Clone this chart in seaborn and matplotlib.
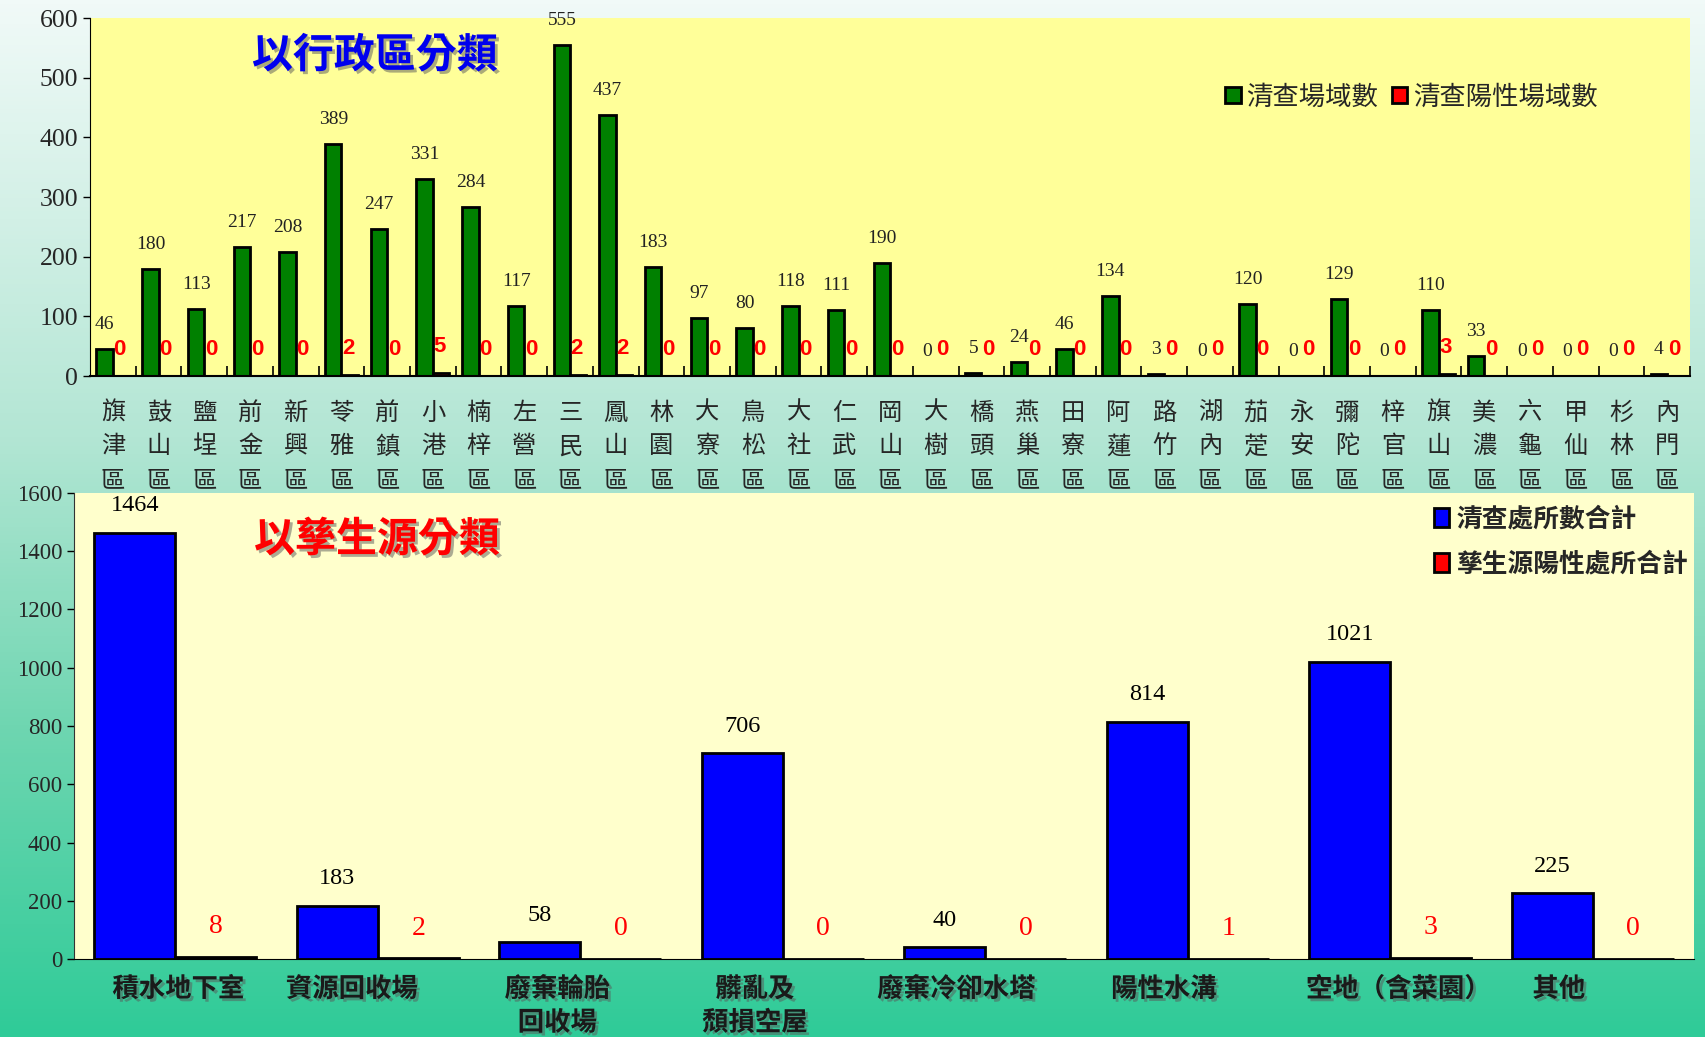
import matplotlib
matplotlib.use("Agg")
import matplotlib.pyplot as plt
import matplotlib.patheffects as pe
from matplotlib.colors import LinearSegmentedColormap
from matplotlib.transforms import ScaledTranslation
import numpy as np
import pandas as pd
import seaborn as sns

# 以行政區分類
districts = ["旗津", "鼓山", "鹽埕", "前金", "新興", "苓雅", "前鎮", "小港", "楠梓", "左營",
             "三民", "鳳山", "林園", "大寮", "鳥松", "大社", "仁武", "岡山", "大樹", "橋頭",
             "燕巢", "田寮", "阿蓮", "路竹", "湖內", "茄萣", "永安", "彌陀", "梓官", "旗山",
             "美濃", "六龜", "甲仙", "杉林", "內門"]
checked_sites = [46, 180, 113, 217, 208, 389, 247, 331, 284, 117,
                 555, 437, 183, 97, 80, 118, 111, 190, 0, 5,
                 24, 46, 134, 3, 0, 120, 0, 129, 0, 110,
                 33, 0, 0, 0, 4]
positive_sites = [0, 0, 0, 0, 0, 2, 0, 5, 0, 0,
                  2, 2, 0, 0, 0, 0, 0, 0, 0, 0,
                  0, 0, 0, 0, 0, 0, 0, 0, 0, 3,
                  0, 0, 0, 0, 0]

# 以孳生源分類
sources = ["積水地下室", "資源回收場", "廢棄輪胎\n回收場", "髒亂及\n頹損空屋",
           "廢棄冷卻水塔", "陽性水溝", "空地（含菜園）", "其他"]
source_checked = [1464, 183, 58, 706, 40, 814, 1021, 225]
source_positive = [8, 2, 0, 0, 0, 1, 3, 0]

sns.set_style("ticks")
CJK = ["Noto Sans CJK TC", "DejaVu Sans"]
SERIF = ["Liberation Serif", "DejaVu Serif"]
plt.rcParams["font.family"] = CJK

fig = plt.figure(figsize=(17.06, 10.37), dpi=100)

# background gradient
bg = fig.add_axes([0, 0, 1, 1], zorder=-5)
cmap = LinearSegmentedColormap.from_list(
    "bg", [(0, "#f1faf8"), (0.42, "#b3e6d4"), (0.7, "#6fd6b1"), (1, "#2fcb98")])
bg.imshow(np.linspace(0, 1, 256)[:, None], aspect="auto", cmap=cmap, extent=[0, 1, 0, 1])
bg.axis("off")

shadow = [pe.SimplePatchShadow(offset=(2, -2), shadow_rgbFace=(0.35, 0.35, 0.35), alpha=0.5), pe.Normal()]

# ---------------- top chart ----------------
ax1 = fig.add_axes([0.0528, 0.6374, 0.9378, 0.3452])
df1 = pd.DataFrame({
    "district": districts * 2,
    "count": checked_sites + positive_sites,
    "series": ["清查場域數"] * len(districts) + ["清查陽性場域數"] * len(districts),
})
sns.barplot(data=df1, x="district", y="count", hue="series", palette=["#008000", "#ff0000"],
            width=0.72, edgecolor="black", linewidth=2, saturation=1, ax=ax1)
ax1.set_facecolor("#ffff99")
ax1.set_xlim(-0.5, len(districts) - 0.5)
ax1.set_ylim(0, 600)
ax1.set_yticks(range(0, 601, 100))
ax1.set_xlabel("")
ax1.set_ylabel("")
ax1.set_xticks(range(len(districts)))
ax1.set_xticklabels(["\n".join(d + "區") for d in districts], fontsize=17.5, linespacing=1.38)
ax1.set_xticks(np.arange(len(districts)) + 0.5, minor=True)
ax1.tick_params(axis="x", which="major", length=0, pad=17)
ax1.tick_params(axis="x", which="minor", direction="in", length=7, width=1.2, color="black")
ax1.tick_params(axis="y", length=5, width=1, color="black")
for lab in ax1.get_yticklabels():
    lab.set_fontfamily(SERIF)
    lab.set_fontsize(18.5)
for s in ["top", "right"]:
    ax1.spines[s].set_visible(False)
ax1.spines["left"].set_color("black")
ax1.spines["bottom"].set_color("black")
ax1.spines["bottom"].set_linewidth(1.5)

for i, (g, r) in enumerate(zip(checked_sites, positive_sites)):
    ax1.text(i - 0.18, g + 41, str(g), ha="center", va="center", fontsize=14,
             family=SERIF, color="#222222")
    ax1.text(i + 0.15, r + 44, str(r), ha="center", va="center", fontsize=16,
             family=["Liberation Sans", "DejaVu Sans"], fontweight="bold", color="#ff0000")

ax1.text(0.178, 0.895, "以行政區分類", transform=ax1.transAxes, ha="center", va="center",
         fontsize=29.5, fontweight="bold", color="#0000ee", path_effects=shadow)
h, l = ax1.get_legend_handles_labels()
ax1.legend(h, l, loc="center left", bbox_to_anchor=(0.703, 0.78), ncol=2, frameon=False,
           fontsize=19, handlelength=0.6, handleheight=0.6, handletextpad=0.2,
           columnspacing=0.5, borderaxespad=0)

# ---------------- bottom chart ----------------
ax2 = fig.add_axes([0.0434, 0.0752, 0.9496, 0.4494])
df2 = pd.DataFrame({
    "source": sources * 2,
    "count": source_checked + source_positive,
    "series": ["清查處所數合計"] * len(sources) + ["孳生源陽性處所合計"] * len(sources),
})
sns.barplot(data=df2, x="source", y="count", hue="series", palette=["#0000ff", "#ff0000"],
            width=0.8, edgecolor="black", linewidth=2, saturation=1, ax=ax2)
ax2.set_facecolor("#ffffcc")
ax2.set_xlim(-0.5, len(sources) - 0.5)
ax2.set_ylim(0, 1600)
ax2.set_yticks(range(0, 1601, 200))
ax2.set_xlabel("")
ax2.set_ylabel("")
ax2.tick_params(axis="x", length=0, pad=12)
ax2.tick_params(axis="y", length=5, width=1, color="black")
ax2.set_xticks(range(len(sources)))
ax2.set_xticklabels(sources, fontsize=19, fontweight="bold", color="#1a1a1a",
                    linespacing=1.32, va="top")
# the category captions sit a little off the group centres
label_shift_px = [3, -26, -23, -28, -29, -24, 8, -34]
for lab, dx in zip(ax2.get_xticklabels(), label_shift_px):
    lab.set_path_effects(shadow)
    lab.set_transform(lab.get_transform() + ScaledTranslation(dx / 100, 0, fig.dpi_scale_trans))
for lab in ax2.get_yticklabels():
    lab.set_fontfamily(SERIF)
    lab.set_fontsize(16.5)
for s in ["top", "right"]:
    ax2.spines[s].set_visible(False)
ax2.spines["left"].set_color("#333333")
ax2.spines["bottom"].set_color("black")

for i, (b, r) in enumerate(zip(source_checked, source_positive)):
    ax2.text(i - 0.2, b + 93, str(b), ha="center", va="center", fontsize=17.5,
             family=SERIF, color="black")
    ax2.text(i + 0.2, r + 104, str(r), ha="center", va="center", fontsize=20,
             family=SERIF, color="#ff0000")

ax2.text(0.187, 0.9, "以孳生源分類", transform=ax2.transAxes, ha="center", va="center",
         fontsize=29.5, fontweight="bold", color="#ff0000", path_effects=shadow)
h, l = ax2.get_legend_handles_labels()
leg = ax2.legend(h, l, loc="upper left", bbox_to_anchor=(0.833, 0.995), ncol=1, frameon=False,
                 fontsize=18.5, handlelength=0.6, handleheight=0.8, handletextpad=0.3,
                 labelspacing=0.7, borderaxespad=0)
for t in leg.get_texts():
    t.set_fontweight("bold")

fig.savefig("out.png", dpi=100)
